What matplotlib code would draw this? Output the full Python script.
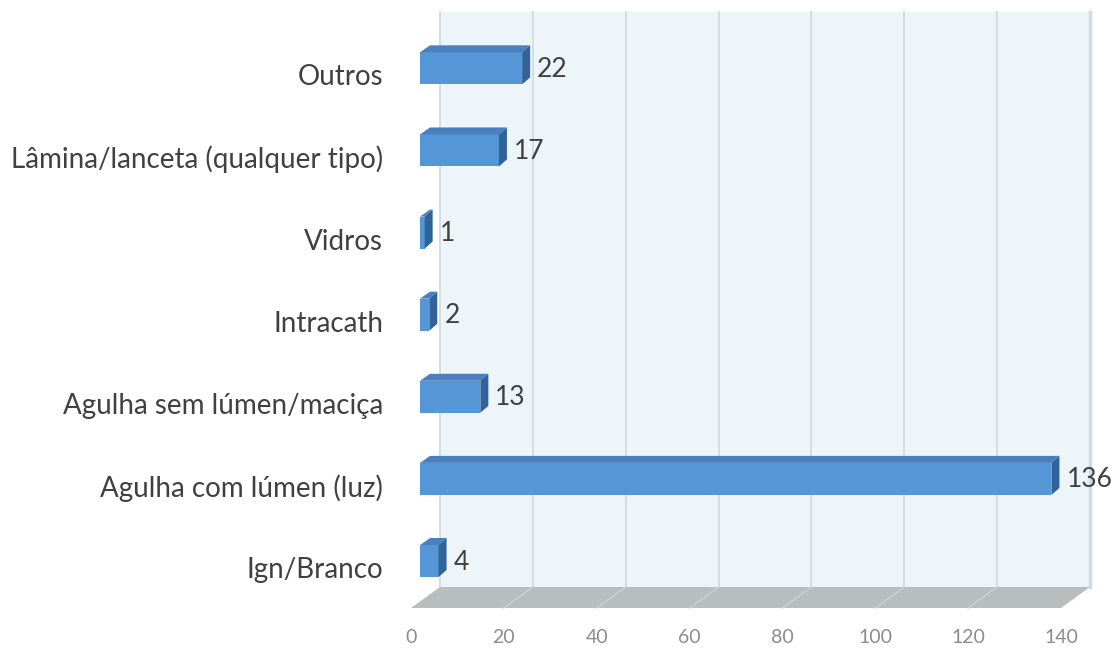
import numpy as np
import matplotlib.pyplot as plt
from matplotlib.patches import Polygon
from matplotlib.transforms import ScaledTranslation, IdentityTransform

categorias = ["Ign/Branco", "Agulha com lúmen (luz)", "Agulha sem lúmen/maciça",
              "Intracath", "Vidros", "Lâmina/lanceta (qualquer tipo)", "Outros"]
valores = [4, 136, 13, 2, 1, 17, 22]
ticks_x = [0, 20, 40, 60, 80, 100, 120, 140]

plt.rcParams['font.family'] = ['Lato', 'DejaVu Sans']

fig = plt.figure(figsize=(11.17, 6.49), dpi=100)
ax = fig.add_axes([420/1117, 0.0732, 650/1117, 0.886])
ax.set_xlim(0, 140)
ax.set_ylim(-0.493, 6.51)
ax.set_facecolor('none')
for s in ax.spines.values():
    s.set_visible(False)

# offsets in pixels (dpi 100): back wall / front edge / bar depth
back = (20, 14.5)
front = (-9, -6.5)
depth = (8, 7)
ident = IdentityTransform()

def px(x, y, off=(0, 0)):
    p = ax.transData.transform((x, y))
    return (p[0] + off[0], p[1] + off[1])

y0, y1 = ax.get_ylim()
# back wall
wall = [px(0, y0, back), px(140, y0, back), px(140, y1, back), px(0, y1, back)]
ax.add_patch(Polygon(wall, closed=True, facecolor='#edf5f9', edgecolor='none',
                     transform=ident, zorder=0, clip_on=False))
for t in ticks_x:
    a = px(t, y0, back)
    b = px(t, y1, back)
    ax.plot([a[0], b[0]], [a[1], b[1]], color='#d3dbe0', lw=1.3 if t < 140 else 2.5,
            transform=ident, zorder=1, clip_on=False)

# floor
floor = [px(0, y0, front), px(140, y0, front), px(140, y0, back), px(0, y0, back)]
ax.add_patch(Polygon(floor, closed=True, facecolor='#b8bdbd', edgecolor='none',
                     transform=ident, zorder=1, clip_on=False))
for t in ticks_x[1:-1]:
    a = px(t, y0, front)
    b = px(t, y0, back)
    ax.plot([a[0], b[0]], [a[1], b[1]], color='#cdd1d1', lw=1,
            transform=ident, zorder=2, clip_on=False)

# bars
ypos = np.arange(len(categorias))
h = 0.39
ax.barh(ypos, valores, height=h, color='#5597d6', edgecolor='none', zorder=3)
for yi, v in zip(ypos, valores):
    tl = px(0, yi + h/2)
    tr = px(v, yi + h/2)
    br = px(v, yi - h/2)
    top = [tl, tr, (tr[0] + depth[0], tr[1] + depth[1]), (tl[0] + depth[0] + 2, tl[1] + depth[1])]
    side = [tr, br, (br[0] + depth[0], br[1] + depth[1]), (tr[0] + depth[0], tr[1] + depth[1])]
    ax.add_patch(Polygon(top, closed=True, facecolor='#4a80bd', edgecolor='none',
                         transform=ident, zorder=4, clip_on=False))
    ax.add_patch(Polygon(side, closed=True, facecolor='#2f6399', edgecolor='none',
                         transform=ident, zorder=4, clip_on=False))
    ax.annotate(str(v), (v, yi), xytext=(15, -1), textcoords='offset pixels',
                ha='left', va='center', fontsize=19, color='#404040', zorder=5)

# axis labels
ax.set_xticks(ticks_x)
ax.set_xticklabels([str(t) for t in ticks_x], fontsize=14, color='#8c8c8c')
ax.set_yticks(ypos)
ax.set_yticklabels(categorias, fontsize=20, color='#404040')
ax.tick_params(axis='x', length=0, pad=15)
ax.tick_params(axis='y', length=0, pad=20)
shift = ScaledTranslation(front[0]/100, front[1]/100, fig.dpi_scale_trans)
for lab in ax.get_xticklabels() + ax.get_yticklabels():
    lab.set_transform(lab.get_transform() + shift)

fig.savefig('out.png', dpi=100)
